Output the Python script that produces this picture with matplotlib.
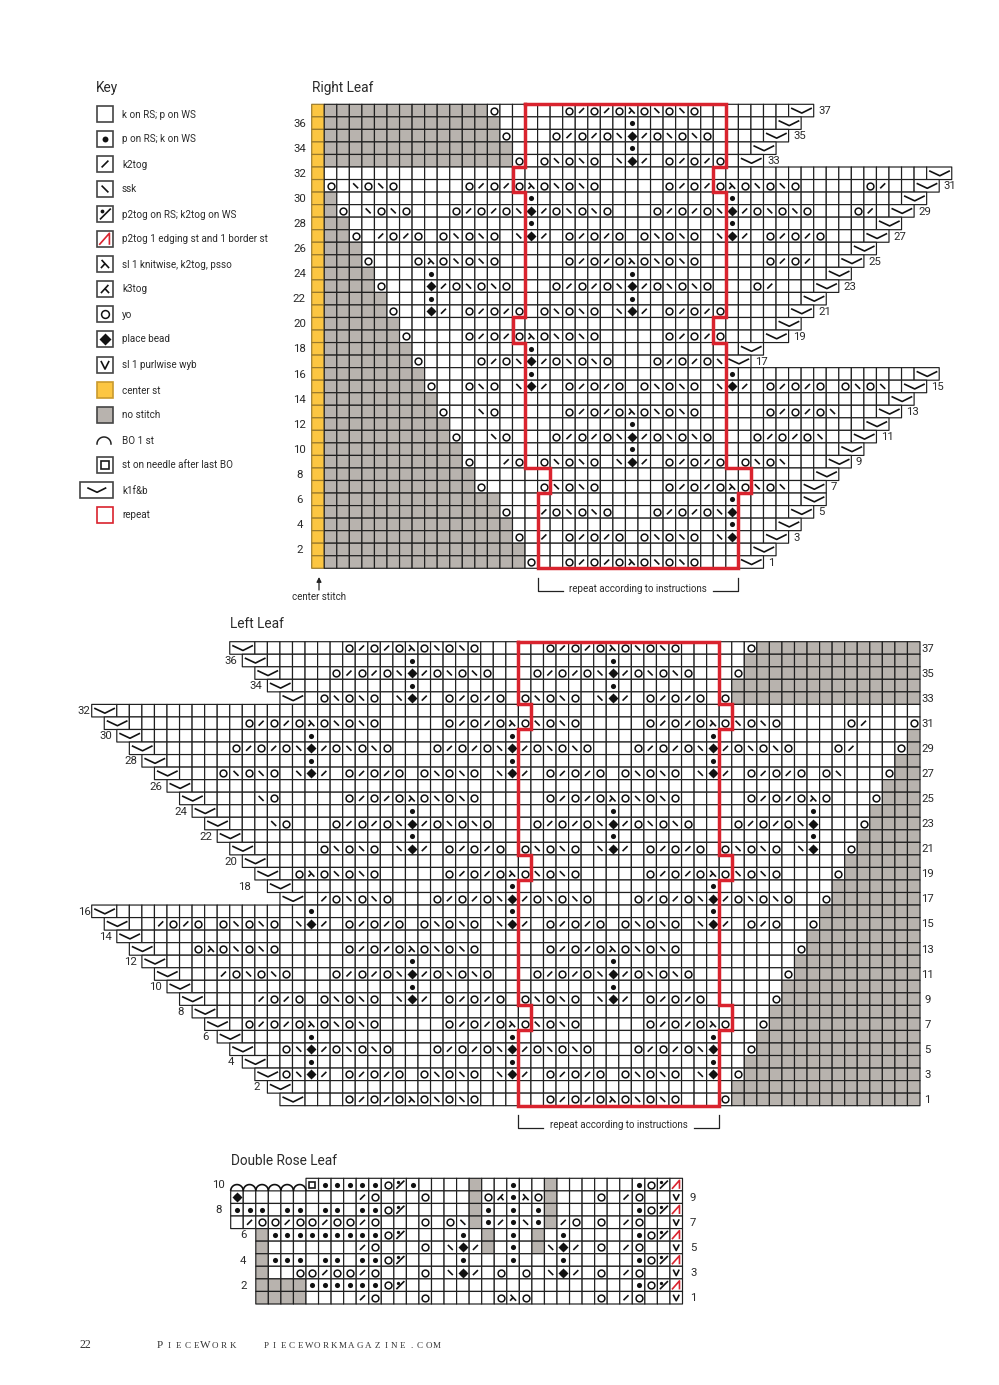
import numpy as np
import matplotlib
matplotlib.use("Agg")
import matplotlib.pyplot as plt
from matplotlib.collections import LineCollection, PatchCollection
from matplotlib.patches import Rectangle

plt.rcParams['font.family'] = ['Roboto', 'Liberation Sans', 'DejaVu Sans']

# stitch codes: . knit, p purl, / k2tog, s ssk, A sl1 k2tog psso, K k3tog, o yo, D bead,
# P p2tog, R red p2tog, V slip, S last st, a BO, C center, x no stitch, W- k1f&b
right_leaf = [
    "Cxxxxxxxxx|xxxxo.....|o/o/oAosos|o.......W-",
    "Cxxxxxxxxx|xxxxx.....|.....p....|.......W-",
    "Cxxxxxxxxx|xxxxxo...o|/o/osD/oso|so....W-",
    "Cxxxxxxxxx|xxxxxx....|.....p....|.....W-",
    "Cxxxxxxxxx|xxxxxxo.os|oso.sD/.o/|o/o.W-",
    "C.........|..........|..........|..........|.........W-",
    "Co.soso...|..o/o/oAos|oso.....o/|o/oAososo.|....o/..W-",
    "Cx........|.......p..|..........|...p......|.......W-",
    "Cxo.soso..|.o/o/osD/o|soso...o/o|/osD/ososo|...o/.W-",
    "Cxx.......|.......p..|..........|...p......|.....W-",
    "Cxxo./o/o.|ososo.sD/.|o/o/o.osos|o.sD/.o/o/|o...W-",
    "Cxxx......|..........|..........|..........|...W-",
    "Cxxxo...oA|ososo.....|o/o/oAosos|o.....o/o/|..W-",
    "Cxxxx....p|..........|.....p....|..........|.W-",
    "Cxxxxo...D|/ososo...o|/o/osD/oso|so...o/...|W-",
    "Cxxxxx...p|..........|.....p....|.........W|-",
    "Cxxxxxo..D|/.o/o/o.os|oso.sD/.o/|o/o.....W-",
    "Cxxxxxx...|..........|..........|.......W-",
    "Cxxxxxxo..|..o/o/oAos|oso.....o/|o/o...W-",
    "Cxxxxxxx..|.......p..|..........|....W-",
    "Cxxxxxxxo.|...o/osD/o|soso...o/o|/osW-",
    "Cxxxxxxxx.|.......p..|..........|...p......|........W-",
    "Cxxxxxxxxo|..oso.sD/.|o/o/o.osos|o.sD/.o/o/|o.osos.W-",
    "Cxxxxxxxxx|..........|..........|..........|......W-",
    "Cxxxxxxxxx|o..so.....|o/o/oAosos|o.....o/o/|os...W-",
    "Cxxxxxxxxx|x.........|.....p....|..........|....W-",
    "Cxxxxxxxxx|xo..so...o|/o/osD/oso|so...o/o/o|s..W-",
    "Cxxxxxxxxx|xx........|.....p....|..........|..W-",
    "Cxxxxxxxxx|xxo../o.os|oso.sD/.o/|o/o.osos..|.W-",
    "Cxxxxxxxxx|xxx.......|..........|..........|W-",
    "Cxxxxxxxxx|xxxo....os|oso.....o/|o/oAosos.W|-",
    "Cxxxxxxxxx|xxxxx.....|..........|...p.....W|-",
    "Cxxxxxxxxx|xxxxxo../o|soso...o/o|/osD....W-",
    "Cxxxxxxxxx|xxxxxx....|..........|...p...W-",
    "Cxxxxxxxxx|xxxxxxo./.|o/o/o.osos|o.sD..W-",
    "Cxxxxxxxxx|xxxxxxx...|..........|.....W-",
    "Cxxxxxxxxx|xxxxxxxo..|o/o/oAosos|o...W-",
]

left_leaf = [
    "          | W-.......|o/o/oAosos|o.....o/o/|oAososo...|..oxxxxxxx|xxxxxx",
    "          |  W-......|.....p....|..........|.p........|..xxxxxxxx|xxxxxx",
    "          |   W-....o|/o/osD/oso|so...o/o/o|sD/ososo..|.oxxxxxxxx|xxxxxx",
    "          |    W-....|.....p....|..........|.p........|.xxxxxxxxx|xxxxxx",
    "          |     W-.os|oso.sD/.o/|o/o.ososo.|sD/.o/o/o.|oxxxxxxxxx|xxxxxx",
    "W-........|..........|..........|..........|..........|..........|......",
    " W-.......|..o/o/oAos|oso.....o/|o/oAososo.|....o/o/oA|ososo.....|o/...o",
    "  W-......|.......p..|..........|...p......|.........p|..........|.....x",
    "   W-.....|.o/o/osD/o|soso...o/o|/osD/ososo|...o/o/osD|/ososo...o|/...ox",
    "    W-....|.......p..|..........|...p......|.........p|..........|....xx",
    "     W-...|ososo.sD/.|o/o/o.osos|o.sD/.o/o/|o.ososo.sD|/.o/o/o.os|...oxx",
    "      W-..|..........|..........|..........|..........|..........|...xxx",
    "       W-.|...so.....|o/o/oAosos|o.....o/o/|oAososo...|..o/o/oAo.|..oxxx",
    "        W-|..........|.....p....|..........|.p........|.......p..|..xxxx",
    "         W|-...so...o|/o/osD/oso|so...o/o/o|sD/ososo..|.o/o/osD..|.oxxxx",
    "          |W-........|.....p....|..........|.p........|.......p..|.xxxxx",
    "          | W-.....os|oso.sD/.o/|o/o.ososo.|sD/.o/o/o.|ososo.sD..|oxxxxx",
    "          |  W-......|..........|..........|..........|..........|xxxxxx",
    "          |   W-.oAos|oso.....o/|o/oAososo.|....o/o/oA|ososo....o|xxxxxx",
    "          |    W-....|..........|...p......|.........p|.........x|xxxxxx",
    "          |     W-./o|soso...o/o|/osD/ososo|...o/o/osD|/ososo..ox|xxxxxx",
    "W-........|.......p..|..........|...p......|.........p|........xx|xxxxxx",
    " W-../o/o.|ososo.sD/.|o/o/o.osos|o.sD/.o/o/|o.ososo.sD|/.o/o..oxx|xxxxxx",
    "  W-......|..........|..........|..........|..........|.......xxx|xxxxxx",
    "   W-...oA|ososo.....|o/o/oAosos|o.....o/o/|oAososo...|......oxxx|xxxxxx",
    "    W-....|..........|.....p....|..........|.p........|......xxxx|xxxxxx",
    "     W-...|/ososo...o|/o/osD/oso|so...o/o/o|sD/ososo..|.....oxxxx|xxxxxx",
    "      W-..|..........|.....p....|..........|.p........|.....xxxxx|xxxxxx",
    "       W-.|.../o/o.os|oso.sD/.o/|o/o.ososo.|sD/.o/o/o.|....oxxxxx|xxxxxx",
    "        W-|..........|..........|..........|..........|....xxxxxx|xxxxxx",
    "         W|-.o/o/oAos|oso.....o/|o/oAososo.|....o/o/oA|o..oxxxxxx|xxxxxx",
    "          |W-.....p..|..........|...p......|.........p|...xxxxxxx|xxxxxx",
    "          | W-..osD/o|soso...o/o|/osD/ososo|...o/o/osD|..oxxxxxxx|xxxxxx",
    "          |  W-...p..|..........|...p......|.........p|..xxxxxxxx|xxxxxx",
    "          |   W-osD/.|o/o/o.osos|o.sD/.o/o/|o.ososo.sD|.oxxxxxxxx|xxxxxx",
    "          |    W-....|..........|..........|..........|.xxxxxxxxx|xxxxxx",
    "          |     W-...|o/o/oAosos|o.....o/o/|oAososo...|oxxxxxxxxx|xxxxxx",
]

rose_leaf = [
    "aaaaaaSppp|ppoPp....x|..p..x....|..poPR",
    "D.........|/o...o...x|oKpAox...o|./o..V",
    "ppp.pp.pp.|ppoP.....x|p.p.px....|..poPR",
    "./oo/oo/oo|/o...o.osx|p/pspx/o.o|./o..V",
    "  xppppppp|ppoP....p.|x.p.x.p...|..poPR",
    "  x.......|/o...o.sD/|x.p.xsD/.o|./o..V",
    "  xppp.pp.|ppoP....p.|..p...p...|..poPR",
    "  x..oo/oo|/o...o.sD/|.o.o.sD/.o|./o..V",
    "  xxxxpppp|ppoP......|..........|..poPR",
    "  xxxx....|/o...o....|.oAo.....o|./o..V",
]

# repeat outline: (first col, end col, rows), from the top row down
right_repeat = [(17, 33, 5), (16, 32, 2), (17, 33, 10), (16, 32, 2), (17, 33, 10), (19, 35, 2), (18, 34, 6)]
left_repeat = [(34, 50, 5), (35, 51, 2), (34, 50, 10), (35, 51, 2), (34, 50, 10), (35, 51, 2), (34, 50, 6)]

key_codes = ['.', 'p', '/', 's', 'P', 'R', 'A', 'K', 'o', 'D', 'V', 'C', 'x', 'a', 'S', 'W', 'r']
key_labels = ['k on RS; p on WS', 'p on RS; k on WS', 'k2tog', 'ssk', 'p2tog on RS; k2tog on WS',
              'p2tog 1 edging st and 1 border st', 'sl 1 knitwise, k2tog, psso', 'k3tog', 'yo',
              'place bead', 'sl 1 purlwise wyb', 'center st', 'no stitch', 'BO 1 st',
              'st on needle after last BO', 'k1f&b', 'repeat']

INK = '#1f1f1f'
TXT = '#2a2a2a'
GRAY = '#b8b3ae'
YELLOW = '#fcc642'
RED = '#d9232e'
CELL = 12.55
W, H = 999, 1385


def px_axes(x, y, w, h):
    ax = fig.add_axes([x / W, 1 - (y + h) / H, w / W, h / H])
    ax.set_axis_off()
    return ax


def glyphs(ax, items, u=1.0, k=1.0):
    # items are (code, cx, cy); u is one cell in data units, k scales marker size
    black, red = [], []
    marks = {'o': [], 'p': [], 'D': [], 'S': [], 'q': []}
    for c, x, y in items:
        if c == '/':
            black.append([(x - .2 * u, y + .2 * u), (x + .2 * u, y - .2 * u)])
        elif c == 's':
            black.append([(x - .2 * u, y - .2 * u), (x + .2 * u, y + .2 * u)])
        elif c == 'A':
            black.append([(x - .2 * u, y - .24 * u), (x + .24 * u, y + .24 * u)])
            black.append([(x - .24 * u, y + .24 * u), (x, y - .02 * u)])
        elif c == 'K':
            black.append([(x + .2 * u, y - .24 * u), (x - .24 * u, y + .24 * u)])
            black.append([(x + .24 * u, y + .24 * u), (x, y - .02 * u)])
        elif c == 'V':
            black.append([(x - .24 * u, y - .24 * u), (x, y + .24 * u), (x + .24 * u, y - .24 * u)])
        elif c == 'P':
            black.append([(x - .3 * u, y + .32 * u), (x + .34 * u, y - .32 * u)])
            marks['q'].append((x - .2 * u, y - .2 * u))
        elif c == 'R':
            red.append([(x - .34 * u, y + .34 * u), (x + .26 * u, y - .34 * u), (x + .26 * u, y + .34 * u)])
        elif c == 'W':
            black.append([(x - .8 * u, y - .2 * u), (x + .05 * u, y + .2 * u), (x + .85 * u, y - .2 * u)])
        elif c == 'a':
            t = np.linspace(0, np.pi, 30)
            black.append(list(zip(x + .5 * u * np.cos(t), y + .5 * u - .5 * u * np.sin(t))))
        elif c in marks:
            marks[c].append((x, y))
    ax.add_collection(LineCollection(black, colors='#111111', linewidths=1.2, capstyle='butt', clip_on=False))
    ax.add_collection(LineCollection(red, colors=RED, linewidths=1.2, clip_on=False))
    styles = {'o': dict(marker='o', ms=4.9 * k, mfc='none', mec='#111111', mew=1.1),
              'p': dict(marker='o', ms=3.7 * k, mfc='#111111', mec='none'),
              'D': dict(marker='D', ms=4.9 * k, mfc='#111111', mec='none'),
              'S': dict(marker='s', ms=4.8 * k, mfc='none', mec='#1a1a1a', mew=1.2),
              'q': dict(marker='o', ms=2.4 * k, mfc='#111111', mec='none')}
    for c, pts in marks.items():
        if pts:
            xs, ys = zip(*pts)
            ax.plot(xs, ys, ls='none', clip_on=False, **styles[c])
            if c == 'D':
                ax.plot(xs, ys, ls='none', clip_on=False, marker='o', ms=4.8 * k, mfc='#111111', mec='none')


def draw_chart(ax, rows, ncols):
    ax.set_xlim(0, ncols)
    ax.set_ylim(len(rows), 0)
    rects, faces, edges, items = [], [], [], []
    for r, row in enumerate(rows):
        for c, ch in enumerate(row):
            if ch in ' -':
                continue
            if ch == 'a':
                items.append((ch, c + .5, r + .5))
                continue
            rects.append(Rectangle((c, r), 2 if ch == 'W' else 1, 1))
            faces.append({'x': GRAY, 'C': YELLOW}.get(ch, 'white'))
            edges.append('#9a7a2c' if ch == 'C' else INK)
            if ch == 'W':
                items.append((ch, c + 1, r + .5))
            elif ch not in '.xC':
                items.append((ch, c + .5, r + .5))
    cells = PatchCollection(rects, facecolors=faces, edgecolors=edges, linewidths=0.85, clip_on=False)
    cells.set_snap(False)
    ax.add_collection(cells)
    glyphs(ax, items)


def draw_repeat(ax, runs):
    r = 0
    lefts, rights = [], []
    for a, b, n in runs:
        lefts += [(a, r), (a, r + n)]
        rights += [(b, r), (b, r + n)]
        r += n
    path = lefts + rights[::-1] + lefts[:1]
    xs, ys = zip(*path)
    ax.plot(xs, ys, color=RED, lw=2.5, solid_joinstyle='miter', solid_capstyle='projecting', clip_on=False, zorder=5)


fig = plt.figure(figsize=(W / 100, H / 100), dpi=100, facecolor='white')
page = px_axes(0, 0, W, H)
page.set_xlim(0, W)
page.set_ylim(H, 0)

right_rows = [s.replace('|', '') for s in right_leaf]
left_rows = [s.replace('|', '') for s in left_leaf]
rose_rows = [s.replace('|', '') for s in rose_leaf]

NUM = 8.2

# Right Leaf
ax1 = px_axes(311.7, 104.3, 51 * CELL, 37 * 12.54)
draw_chart(ax1, right_rows, 51)
draw_repeat(ax1, right_repeat)
for r, row in enumerate(right_rows):
    n = len(right_rows) - r
    if n % 2 == 0:
        ax1.text(-0.98, r + .55, str(n), ha='center', va='center', fontsize=NUM, color=TXT)
    else:
        ax1.text(len(row) + .35, r + .55, str(n), ha='left', va='center', fontsize=NUM, color=TXT)

# Left Leaf
ax2 = px_axes(91.7, 641.7, 66 * CELL, 37 * 12.54)
draw_chart(ax2, left_rows, 66)
draw_repeat(ax2, left_repeat)
gaps = {16: .1, 32: .1, 18: 1.35, 2: .6, 4: .65, 6: .65, 8: .65}
for r, row in enumerate(left_rows):
    n = len(left_rows) - r
    if n % 2 == 0:
        ax2.text(row.index('W') - gaps.get(n, .4), r + .55, str(n), ha='right', va='center', fontsize=NUM, color=TXT)
    else:
        ax2.text(66.6, r + .55, str(n), ha='center', va='center', fontsize=NUM, color=TXT)

# Double Rose Leaf
ax3 = px_axes(230.7, 1178.3, 36 * CELL, 10 * 12.57)
draw_chart(ax3, rose_rows, 36)
for r in range(len(rose_rows)):
    n = len(rose_rows) - r
    if n % 2 == 0:
        ax3.text(-1.0 if n > 6 else 1.0, r + .55, str(n), ha='center', va='center', fontsize=NUM, color=TXT)
    else:
        ax3.text(36.85, r + .55, str(n), ha='center', va='center', fontsize=NUM, color=TXT)

# titles
for x, y, s in [(96, 88, 'Key'), (312, 88, 'Right Leaf'), (230, 624, 'Left Leaf'), (231, 1161, 'Double Rose Leaf')]:
    page.text(x, y, s, ha='left', va='center', fontsize=9.8, color=TXT)

# key
key_ys = [114, 139, 164, 189, 214, 239, 264, 289, 314, 339, 365, 390, 415, 440, 465, 490, 515]
items = []
wide = []
for code, label, y in zip(key_codes, key_labels, key_ys):
    page.text(122, y + .5, label, ha='left', va='center', fontsize=7.1, color=TXT)
    if code == 'a':
        t = np.linspace(0, np.pi, 30)
        page.plot(104 + 7 * np.cos(t), y + 4 - 7 * np.sin(t), color='#222222', lw=1.1)
        continue
    x0, w = (80, 33) if code == 'W' else (97, 16)
    face = {'x': GRAY, 'C': YELLOW}.get(code, 'white')
    edge = RED if code == 'r' else ('#c99a2e' if code == 'C' else '#444444')
    page.add_patch(Rectangle((x0, y - 8), w, 16, facecolor=face, edgecolor=edge, lw=1.2))
    if code == 'W':
        wide.append((code, 96.5, y))
    elif code not in '.xCr':
        items.append((code, 105, y))
glyphs(page, items, u=17, k=1.15)
glyphs(page, wide, u=11.5)

# notes under the charts
page.text(319, 596.5, 'center stitch', ha='center', va='center', fontsize=7.0, color=TXT)
page.annotate('', xy=(319, 577), xytext=(319, 590),
              arrowprops=dict(arrowstyle='-|>', color='#222222', lw=0.9, shrinkA=0, shrinkB=0, mutation_scale=7))
for x1, x2, y1, y2, tx, ty in [(537.6, 738.4, 577.5, 590.5, 638, 589.5), (518.4, 719, 1115, 1127.5, 618.5, 1125.5)]:
    page.plot([x1, x1, x1 + 25], [y1, y2, y2], color='#222222', lw=0.9)
    page.plot([x2 - 25, x2, x2], [y2, y2, y1], color='#222222', lw=0.9)
    page.text(tx, ty, 'repeat according to instructions', ha='center', va='center', fontsize=7.0, color=TXT)


# footer, letter by letter for the wide tracking
def tracked(x0, x1, y, letters, sizes):
    xs = np.linspace(x0, x1, len(letters))
    for x, ch, sz in zip(xs, letters, sizes):
        page.text(x, y, ch, ha='center', va='baseline', family='Liberation Serif', fontsize=sz, color='#333333')


page.text(80, 1348, '22', ha='left', va='baseline', family='Liberation Serif', fontsize=8.5, color='#333333')
tracked(160, 233, 1348, 'PIECEWORK', [8, 6.5, 6.5, 6.5, 6.5, 8, 6.5, 6.5, 6.5])
tracked(266, 437, 1348, 'PIECEWORKMAGAZINE.COM', [6.5] * 21)

fig.savefig('out.png', dpi=100, facecolor='white')
